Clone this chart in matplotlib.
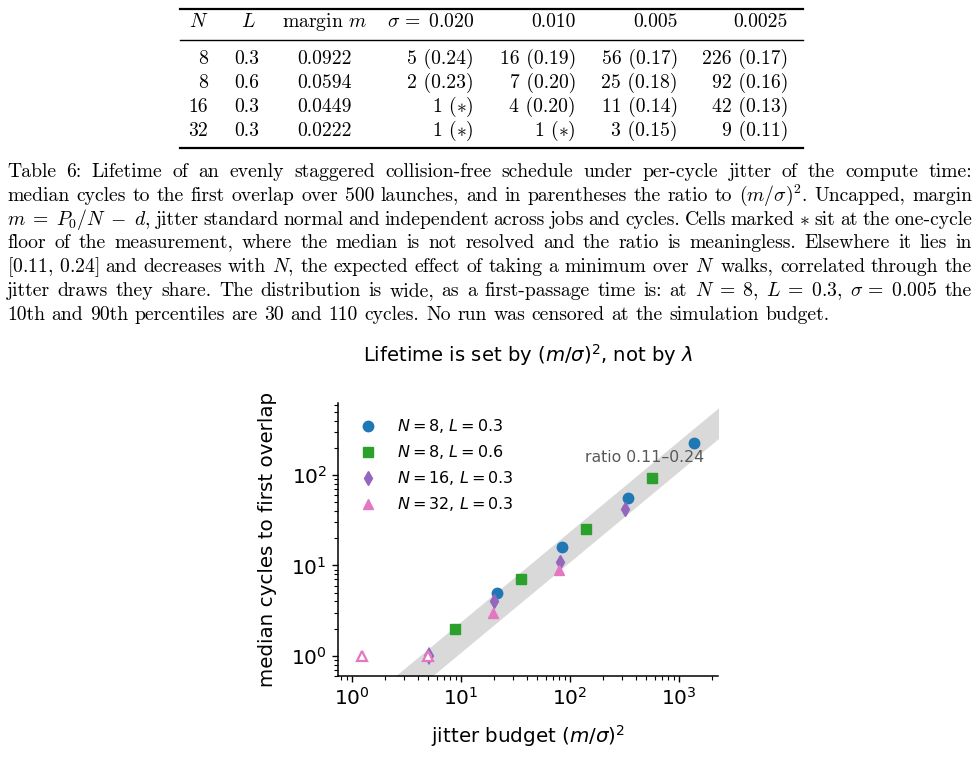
import re
import numpy as np
import matplotlib
matplotlib.use("Agg")
import matplotlib.pyplot as plt
from matplotlib.lines import Line2D

# --- dados da tabela ---
N_vals = [8, 8, 16, 32]
L_vals = [0.3, 0.6, 0.3, 0.3]
margins = [0.0922, 0.0594, 0.0449, 0.0222]
sigmas = [0.020, 0.010, 0.005, 0.0025]
sigma_labels = [r"$\sigma\,=\;0.020$", "0.010", "0.005", "0.0025"]
medians = [
    [5, 16, 56, 226],
    [2, 7, 25, 92],
    [1, 4, 11, 42],
    [1, 1, 3, 9],
]
ratios = [
    ["0.24", "0.19", "0.17", "0.17"],
    ["0.23", "0.20", "0.18", "0.16"],
    [None, "0.20", "0.14", "0.13"],
    [None, None, "0.15", "0.11"],
]
ratio_lo, ratio_hi = 0.11, 0.24

series_colors = ["tab:blue", "tab:green", "tab:purple", "tab:pink"]
series_markers = ["o", "s", "d", "^"]

caption = [
    "Table 6: Lifetime of an evenly staggered collision-free schedule under per-cycle jitter of the compute time:",
    r"median cycles to the first overlap over 500 launches, and in parentheses the ratio to $(m/\sigma)^2$. Uncapped, margin",
    r"$m\;=\;P_0/N\;-\;d$, jitter standard normal and independent across jobs and cycles. Cells marked $*$ sit at the one-cycle",
    "floor of the measurement, where the median is not resolved and the ratio is meaningless. Elsewhere it lies in",
    r"$[0.11,\,0.24]$ and decreases with $N$, the expected effect of taking a minimum over $N$ walks, correlated through the",
    r"jitter draws they share. The distribution is wide, as a first-passage time is: at $N\;=\;8$, $L\;=\;0.3$, $\sigma\,=\;0.005$ the",
    "10th and 90th percentiles are 30 and 110 cycles. No run was censored at the simulation budget.",
]

W, H = 979, 782
fig = plt.figure(figsize=(W / 100, H / 100), dpi=100)
SERIF = dict(family="cmr10", math_fontfamily="cm", fontsize=14.2, color="black")


def px(x, y):
    return x / W, 1 - y / H


def ftext(x, y, s, ha="left", **kw):
    opts = dict(SERIF)
    opts.update(kw)
    return fig.text(*px(x, y), s, ha=ha, va="baseline", **opts)


# --- tabela ---
for y, lw in [(9, 1.6), (40, 1.0), (148, 1.6)]:
    fig.add_artist(Line2D([180 / W, 803 / W], [1 - y / H] * 2, color="black", lw=lw))

col_right = [474, 576, 678, 788]
ftext(208, 27, "$N$", ha="right")
ftext(248, 27, "$L$", ha="center")
ftext(325, 27, "margin $m$", ha="center")
for j in range(4):
    ftext(col_right[j], 27, sigma_labels[j], ha="right")

for i in range(4):
    yb = 64 + 24 * i
    ftext(208, yb, str(N_vals[i]), ha="right")
    ftext(247, yb, f"{L_vals[i]:.1f}", ha="center")
    ftext(325, yb, f"{margins[i]:.4f}", ha="center")
    for j in range(4):
        r = ratios[i][j]
        cell = f"{medians[i][j]} ({r})" if r else f"{medians[i][j]} ($*$)"
        ftext(col_right[j], yb, cell, ha="right")

# --- legenda justificada ---
renderer = fig.canvas.get_renderer()
x0, x1 = 7, 972
for i, line in enumerate(caption):
    words = re.findall(r"(?:\$[^$]*\$|[^\s$])+", line)
    yb = 177 + 23.8 * i
    objs = [ftext(x0, yb, w) for w in words]
    widths = [o.get_window_extent(renderer).width for o in objs]
    if i < len(caption) - 1:
        gap = (x1 - x0 - sum(widths)) / (len(words) - 1)
    else:
        gap = 6.6
    x = x0
    for o, w in zip(objs, widths):
        o.set_position(px(x, yb))
        x += w + gap

# --- gráfico ---
ax = fig.add_axes([338 / W, 1 - 676 / H, 380 / W, 273 / H])
ax.set_xscale("log")
ax.set_yscale("log")
ax.set_xlim(0.744, 2280)
ax.set_ylim(0.6, 625)

xb = np.geomspace(0.5, 5000, 200)
ax.fill_between(xb, ratio_lo * xb, ratio_hi * xb, color="#d9d9d9", lw=0, zorder=0)

for i in range(4):
    x = [(margins[i] / s) ** 2 for s in sigmas]
    y = medians[i]
    ok = [r is not None for r in ratios[i]]
    xs = [a for a, k in zip(x, ok) if k]
    ys = [b for b, k in zip(y, ok) if k]
    ax.plot(xs, ys, ls="none", marker=series_markers[i], color=series_colors[i], ms=7.5,
            label=f"$N = {N_vals[i]}$, $L = {L_vals[i]}$", zorder=3)
    xo = [a for a, k in zip(x, ok) if not k]
    yo = [b for b, k in zip(y, ok) if not k]
    if xo:
        ax.plot(xo, yo, ls="none", marker=series_markers[i], mfc="white", mec=series_colors[i],
                mew=1.6, ms=7.5, zorder=3)

ax.text(480, 155, "ratio 0.11–0.24", ha="center", va="center", color="0.35", fontsize=11.3)

ax.set_title(r"Lifetime is set by $(m/\sigma)^2$, not by $\lambda$", fontsize=14.1, pad=30)
ax.set_xlabel(r"jitter budget $(m/\sigma)^2$", fontsize=14.3, labelpad=10)
ax.set_ylabel("median cycles to first overlap", fontsize=14.3, labelpad=10)
ax.tick_params(labelsize=14.5, length=4.5, width=1.0)
ax.tick_params(which="minor", length=2.6, width=0.8)
for s in ["top", "right"]:
    ax.spines[s].set_visible(False)
for s in ["left", "bottom"]:
    ax.spines[s].set_linewidth(1.1)

ax.legend(loc="upper left", frameon=False, fontsize=11.5, handletextpad=0.8)

fig.savefig("out.png", dpi=100)
